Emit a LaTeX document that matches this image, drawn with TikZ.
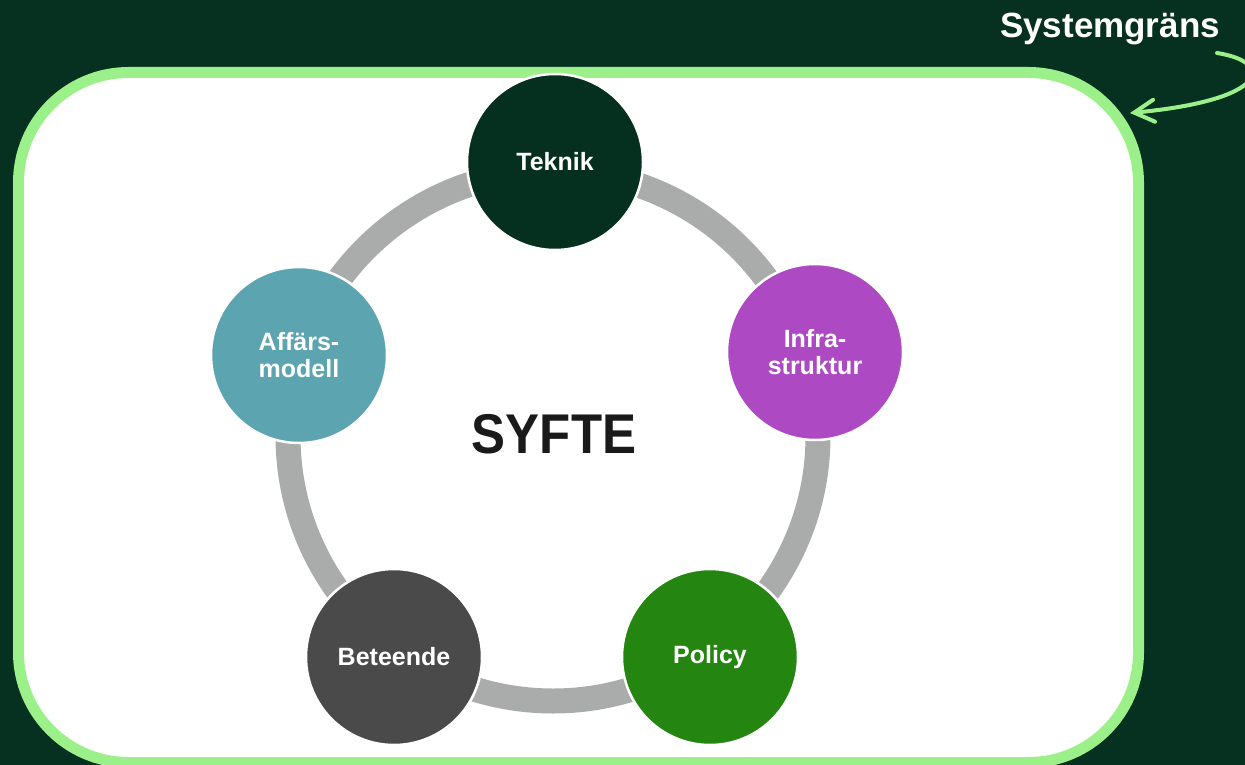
\documentclass[tikz,border=0pt]{standalone}
\usepackage{fontspec}
\setmainfont{Liberation Sans}
\usepackage{tikz}
\usetikzlibrary{arrows.meta,positioning,calc}

\definecolor{bgdark}{HTML}{06301F}
\definecolor{edgegreen}{HTML}{9CF08A}
\definecolor{ringgray}{HTML}{AAACAB}
\definecolor{teknikc}{HTML}{05301F}
\definecolor{infrac}{HTML}{AD49C3}
\definecolor{policyc}{HTML}{248510}
\definecolor{beteendec}{HTML}{4A4A4A}
\definecolor{affarc}{HTML}{5BA4B0}
\definecolor{syftec}{HTML}{1A1A1A}

\begin{document}
\begin{tikzpicture}[x=1pt,y=1pt]
\tikzstyle{every node}+=[inner sep=0pt]
\tikzstyle{part}=[circle,draw=white,line width=2.5pt,minimum size=176pt,text=white,align=center,font=\bfseries\fontsize{25}{27}\selectfont]
\useasboundingbox (0,0) rectangle (1245,-765);
\fill [bgdark] (0,0) rectangle (1245,-765);
\draw [edgegreen,fill=white,line width=11pt,rounded corners=110pt] (18.5,-72.5) rectangle (1138.5,-762.5);
\coordinate (mid) at (553,-436);
\draw [ringgray,line width=25pt] (mid) circle (265);
\node (syfte) at (554,-434) {\textcolor{syftec}{\bfseries\fontsize{56}{60}\selectfont\scalebox{0.91}[1]{SYFTE}}};
\node [part,fill=teknikc] (teknik) at (555,-162) {Teknik};
\node [part,fill=infrac] (infra) at (815,-352) {Infra-\\struktur};
\node [part,fill=policyc] (policy) at (710,-657) {Policy};
\node [part,fill=beteendec] (beteende) at (394,-657) {Beteende};
\node [part,fill=affarc] (affar) at (299,-355) {Affärs-\\modell};
\node [text=white,font=\bfseries\fontsize{35}{40}\selectfont] (grans) at (1110,-29) {Systemgräns};
\coordinate (pil) at (1217,-53);
\draw [edgegreen,line width=4pt,line cap=round,-{Straight Barb[length=20pt,width=22pt,line cap=round]}] (pil) .. controls (1275,-62) and (1270,-100) .. (1130,-113);
\end{tikzpicture}
\end{document}
